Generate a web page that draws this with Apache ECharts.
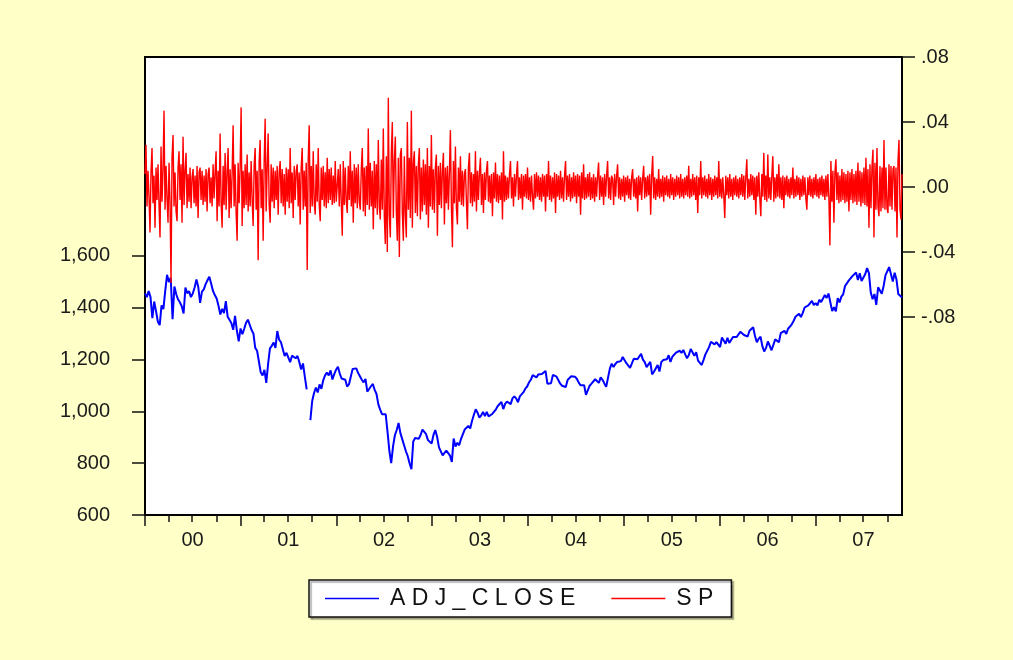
<!DOCTYPE html>
<html>
<head>
<meta charset="utf-8">
<script src="https://cdn.jsdelivr.net/npm/echarts@6/dist/echarts.min.js"></script>
<style>
  html, body { margin: 0; padding: 0; background: #FFFFC8; }
  #chart { width: 1013px; height: 660px; }
</style>
</head>
<body>
<div id="chart"></div>
<script>
// S&P 500 adjusted close, one observation per week, starting Monday 2000-01-03
const adj2000 = [1455,1441,1465,1441,1360,1424,1387,1346,1333,1409,1395,1464,1527,1499,1516,1356,1482,1452,
  1432,1421,1406,1378,1478,1456,1464,1441,1455,1478,1509,1480,1419,1462,1471,1491,1506,1520,1494,1465,1449,1436,
  1408,1374,1396,1379,1426,1365,1367,1341,1315,1369,1312,1270,1320];
const adj2001 = [1298,1319,1342,1354,1350,1314,1301,1245,1234,1233,1150,1139,1160,1110,1183,1243,1253,
  1266,1245,1310,1277,1267,1264,1214,1226,1224,1190,1215,1210,1205,1214,1190,1162,1185,1133,
  1085,null,966,1040,1071,1092,1073,1104,1087,1120,1139,1150,1139,1158,1123,1144,1161];
const adj2002 = [1172,1146,1127,1133,1122,1096,1104,1109,1164,1164,1166,1148,1147,1122,1112,1125,1076,
  1073,1097,1106,1083,1067,1027,1007,989,990,989,921,847,800,865,908,928,955,916,
  893,889,846,827,800,777,884,897,901,894,909,930,936,912,889,895,876];
const adj2003 = [909,928,901,861,856,830,835,849,842,829,805,895,864,879,869,894,899,
  930,934,944,934,964,987,1008,995,976,985,998,982,998,981,977,990,993,1008,
  1021,1018,1036,1009,1029,1038,1039,1028,1050,1058,1050,1035,1058,1061,1074,1088,1096,1112];
const adj2004 = [1122,1140,1141,1131,1142,1146,1144,1145,1156,1107,1110,1109,1141,1139,1134,1140,1107,
  1099,1096,1094,1121,1123,1136,1135,1134,1126,1112,1101,1096,1101,1064,1065,1099,1107,1114,
  1124,1128,1110,1131,1122,1108,1095,1130,1165,1184,1171,1183,1191,1189,1194,1210,1212];
const adj2005 = [1186,1184,1168,1171,1203,1205,1201,1204,1222,1200,1190,1171,1172,1191,1143,1153,1157,
  1179,1154,1190,1198,1197,1201,1217,1191,1211,1212,1227,1230,1234,1226,1237,1220,1205,1218,
  1241,1237,1215,1228,1196,1187,1179,1199,1220,1234,1248,1268,1265,1259,1267,1268,1248];
const adj2006 = [1285,1287,1261,1284,1264,1267,1287,1289,1287,1281,1307,1302,1295,1295,1289,1311,1310,
  1325,1291,1267,1280,1288,1252,1231,1245,1270,1265,1236,1240,1278,1279,1267,1302,1295,1311,
  1299,1319,1315,1336,1349,1365,1368,1377,1364,1380,1401,1400,1409,1407,1427,1410,1418];
const adj2007 = [1409,1431,1422,1422,1449,1438,1455,1451,1387,1402,1386,1437,1421,1443,1452,1484,1494,
  1505,1505,1522,1515,1536,1507,1533,1503,1503,1530,1553,1534,1459,1433,1453,1411,1479,1474,
  1454,1484,1525,1527,1557,1562,1501,1535,1509,1453,1458,1440];

// SP: returns in thousandths (x 0.001), evenly spaced over the sample
const SP_UNIT = 0.001;
const spReturns = [
  8,26,-12,10,-6,-28,9,24,-10,7,-25,12,-8,14,-11,-31,25,-9,11,47,
  -14,13,-7,-22,15,-10,-59,18,32,-12,9,-15,-21,12,22,-8,14,-22,31,-11,
  10,21,-13,8,-9,12,-13,6,11,-10,7,-12,13,-19,9,12,-8,10,-11,7,
  -9,11,-15,8,12,-10,6,-12,14,-7,9,22,-21,10,-12,33,-9,-25,13,-11,
  21,-14,9,24,-19,11,-13,8,38,-12,14,-16,-33,15,-10,12,49,-24,10,-13,
  14,-11,20,-15,9,-12,16,-8,-24,13,24,-14,10,-45,16,29,-13,11,-33,15,
  42,-15,12,33,-11,-22,14,-9,12,-13,10,-8,13,-17,9,16,-10,11,-12,8,
  -17,12,-9,11,-13,24,-10,9,-19,13,-8,10,14,-12,9,-23,12,24,-14,10,
  -12,15,-51,17,38,-16,13,-12,22,-10,-17,14,-9,24,-11,-21,12,-8,13,-12,
  9,-13,18,-10,11,-8,12,-11,7,-10,16,-9,-10,11,-12,14,-9,-30,16,-11,
  12,-9,-16,13,-8,22,-12,10,-22,14,-10,12,-13,14,-9,-14,11,24,-15,12,
  -18,13,-11,36,-14,15,-12,10,-26,16,-13,14,-17,29,-12,-20,17,-14,36,-18,
  -35,19,-40,55,-17,-31,21,40,-19,16,31,-15,-33,18,-43,20,24,-16,-33,19,
  -17,-31,40,-14,18,-19,47,-25,15,22,-16,13,-18,14,24,-20,12,-15,17,-11,
  14,-17,24,-25,13,-12,32,-14,11,-16,12,20,-30,13,-11,15,-13,10,21,-23,
  12,-10,13,-14,9,35,-12,-37,16,-10,25,-13,-23,12,-9,19,-11,10,-12,8,
  11,-9,-26,12,21,-10,9,-12,8,-9,22,-15,10,-8,9,18,-11,8,-16,9,
  -8,10,16,-9,7,-10,8,-18,9,-7,15,-9,8,-10,7,-8,9,-20,22,-9,
  7,-8,6,-7,8,16,-7,6,-12,8,-6,7,16,-8,6,-7,8,-14,7,-6,
  8,-7,12,-8,6,-9,7,-6,-14,8,-7,9,-6,7,-8,6,-9,8,-6,7,
  -15,8,-6,16,-8,7,-9,6,-7,9,-16,8,-6,7,-8,10,-7,6,-9,7,
  16,-8,7,-6,8,-9,6,-7,9,-6,7,-10,8,-6,7,-17,9,-7,14,-8,
  6,-7,8,-6,9,-8,6,-7,8,-9,6,-6,7,15,-8,7,-6,6,-11,8,
  -6,7,16,-7,6,-8,7,5,-11,8,-6,7,14,-7,6,-8,5,-6,7,-9,
  6,-5,7,-7,5,-8,6,11,-6,5,-7,6,-15,7,-5,6,-8,5,13,-7,
  6,-6,7,-5,8,-17,7,19,-7,6,-8,5,-6,11,-7,5,-6,7,-9,6,
  -5,7,-6,5,-7,8,-5,6,-8,5,-6,7,-5,6,-7,8,-6,5,-7,6,
  -5,7,-6,13,-7,5,-6,8,-5,6,-8,7,-16,6,-5,16,-7,6,-5,7,
  -6,5,-7,8,-5,6,-8,5,-6,7,-5,6,-7,16,-6,5,-7,6,-5,-19,
  7,-5,6,-7,8,-6,5,-8,6,-5,7,-6,5,-7,6,-5,8,-6,7,-8,
  6,17,-7,5,-6,8,-5,7,-8,6,-17,7,-6,9,-7,-18,8,-6,21,-8,
  7,-9,20,-7,6,-8,7,19,-9,6,-7,8,-6,14,-7,6,-8,7,-13,6,
  -5,7,-6,5,-7,6,-5,12,-7,5,-6,7,-5,6,-8,5,-6,7,-5,6,
  -7,-14,6,-5,7,-6,5,-7,6,-5,8,-6,5,-7,6,-5,7,-6,5,-8,
  7,-6,8,-7,-36,16,-9,10,-22,9,17,-8,9,-10,7,-9,11,-8,9,-10,
  8,-9,10,-15,9,-8,11,-10,8,-9,10,-11,15,-9,10,-12,9,-10,12,-11,
  18,-12,11,-25,14,-13,12,23,-31,15,-14,24,-12,-18,13,-15,12,-13,29,-14,
  12,-13,-16,14,-12,13,-14,11,13,-15,12,-31,16,29,-14,-20,8
];

// Axis labels
const years = [2000, 2001, 2002, 2003, 2004, 2005, 2006, 2007];
const yearLabels = ['00', '01', '02', '03', '04', '05', '06', '07'];
const leftTicks = [600, 800, 1000, 1200, 1400, 1600];
const rightTicks = [-0.08, -0.04, 0, 0.04, 0.08];

// ---- derived series & scales ----
const DAY = 86400000, WEEK = 7 * DAY;
const START = Date.UTC(2000, 0, 3);
const adjClose = [].concat(adj2000, adj2001, adj2002, adj2003, adj2004, adj2005, adj2006, adj2007);
const END = START + (adjClose.length - 1) * WEEK;
const adjData = adjClose.map((v, i) => [START + i * WEEK, v]);
const spData = spReturns.map(v => +(v * SP_UNIT).toFixed(4));
const spIndex = spReturns.map((_, i) => String(i));

// plot frame
const PLOT = { left: 145, top: 57, width: 757, height: 458 };
const PLOT_BOTTOM = 660 - PLOT.top - PLOT.height;
const L_MIN = 600, L_MAX = 2368;          // left scale spans the full plot height
const R_MIN = -0.2018, R_MAX = 0.08;      // right scale spans the full plot height

const lTop = PLOT.top + (L_MAX - leftTicks[leftTicks.length - 1]) / (L_MAX - L_MIN) * PLOT.height;
const rBottom = PLOT.top + (R_MAX - rightTicks[0]) / (R_MAX - R_MIN) * PLOT.height;

const yearTicks = years.map(y => Math.max(Date.UTC(y, 0, 1), START));
const quarterTicks = [];
years.forEach(y => [3, 6, 9].forEach(m => { const t = Date.UTC(y, m, 1); if (t < END) quarterTicks.push(t); }));
const labelPos = years.map(y => Date.UTC(y, 6, 2));

const FONT = 'Liberation Sans, Arial, sans-serif';
const TXT = '#1a1a1a';
const tickLine = { color: '#111', width: 1.5 };
const noLine = { show: false, onZero: false };

const chart = echarts.init(document.getElementById('chart'), null, { renderer: 'canvas' });
chart.setOption({
  animation: false,
  backgroundColor: '#FFFFC8',
  grid: [
    { left: PLOT.left, top: PLOT.top, width: PLOT.width, height: PLOT.height,
      show: true, backgroundColor: '#ffffff', borderColor: '#000', borderWidth: 2 },
    { left: PLOT.left, top: lTop, width: PLOT.width, bottom: PLOT_BOTTOM },
    { left: PLOT.left, top: PLOT.top, width: PLOT.width, height: rBottom - PLOT.top }
  ],
  xAxis: [
    // 0: weekly dates for ADJ_CLOSE
    { type: 'value', gridIndex: 0, min: START, max: END, show: false, axisLine: noLine },
    // 1: observation index for SP
    { type: 'category', gridIndex: 0, data: spIndex, boundaryGap: false, show: false, axisLine: noLine },
    // 2: year ticks and labels
    { type: 'value', gridIndex: 0, min: START, max: END, position: 'bottom',
      axisLine: noLine, splitLine: { show: false },
      axisTick: { show: true, length: 11, lineStyle: tickLine, customValues: yearTicks },
      axisLabel: { show: true, customValues: labelPos, margin: 15, fontSize: 20, fontFamily: FONT, color: TXT,
        formatter: v => yearLabels[years.indexOf(new Date(v).getUTCFullYear())] } },
    // 3: quarter ticks
    { type: 'value', gridIndex: 0, min: START, max: END, position: 'bottom',
      axisLine: noLine, splitLine: { show: false },
      axisTick: { show: true, length: 7, lineStyle: tickLine, customValues: quarterTicks },
      axisLabel: { show: false } },
    { type: 'value', gridIndex: 1, show: false, min: 0, max: 1, axisLine: noLine },
    { type: 'value', gridIndex: 2, show: false, min: 0, max: 1, axisLine: noLine }
  ],
  yAxis: [
    { type: 'value', gridIndex: 0, min: L_MIN, max: L_MAX, show: false, axisLine: noLine },
    { type: 'value', gridIndex: 0, min: R_MIN, max: R_MAX, show: false, axisLine: noLine },
    // visible left scale
    { type: 'value', gridIndex: 1, position: 'left', min: leftTicks[0], max: leftTicks[leftTicks.length - 1],
      interval: 200, axisLine: noLine, splitLine: { show: false },
      axisTick: { show: true, length: 13, lineStyle: tickLine },
      axisLabel: { margin: 35, fontSize: 20, fontFamily: FONT, color: TXT,
        formatter: v => v.toLocaleString('en-US') } },
    // visible right scale
    { type: 'value', gridIndex: 2, position: 'right', min: rightTicks[0], max: rightTicks[rightTicks.length - 1],
      interval: 0.04, axisLine: noLine, splitLine: { show: false },
      axisTick: { show: true, length: 13, lineStyle: tickLine },
      axisLabel: { margin: 19, fontSize: 20, fontFamily: FONT, color: TXT,
        formatter: v => (v < -1e-9 ? '-' : '') + Math.abs(v).toFixed(2).replace(/^0/, '') } }
  ],
  legend: {
    data: ['ADJ_CLOSE', 'SP'],
    left: 309, top: 580,
    orient: 'horizontal',
    icon: 'rect', itemWidth: 54, itemHeight: 1.5, itemGap: 36,
    padding: [7, 18, 7, 16],
    backgroundColor: '#ffffff', borderColor: '#111', borderWidth: 1.5,
    shadowColor: 'rgba(0,0,0,0.35)', shadowOffsetX: 2, shadowOffsetY: 2, shadowBlur: 1,
    selectedMode: false,
    textStyle: { fontFamily: FONT, fontSize: 23, color: '#111', padding: [0, 0, 0, 6] },
    formatter: name => name.split('').join(' ')
  },
  series: [
    { name: 'ADJ_CLOSE', type: 'line', xAxisIndex: 0, yAxisIndex: 0, data: adjData,
      showSymbol: false, symbol: 'none', connectNulls: false, color: '#0000FF',
      lineStyle: { color: '#0000FF', width: 2 }, z: 2 },
    { name: 'SP', type: 'line', xAxisIndex: 1, yAxisIndex: 1, data: spData,
      showSymbol: false, symbol: 'none', color: '#FF0000',
      lineStyle: { color: '#FF0000', width: 1.4 }, z: 3 }
  ]
});
</script>
</body>
</html>
